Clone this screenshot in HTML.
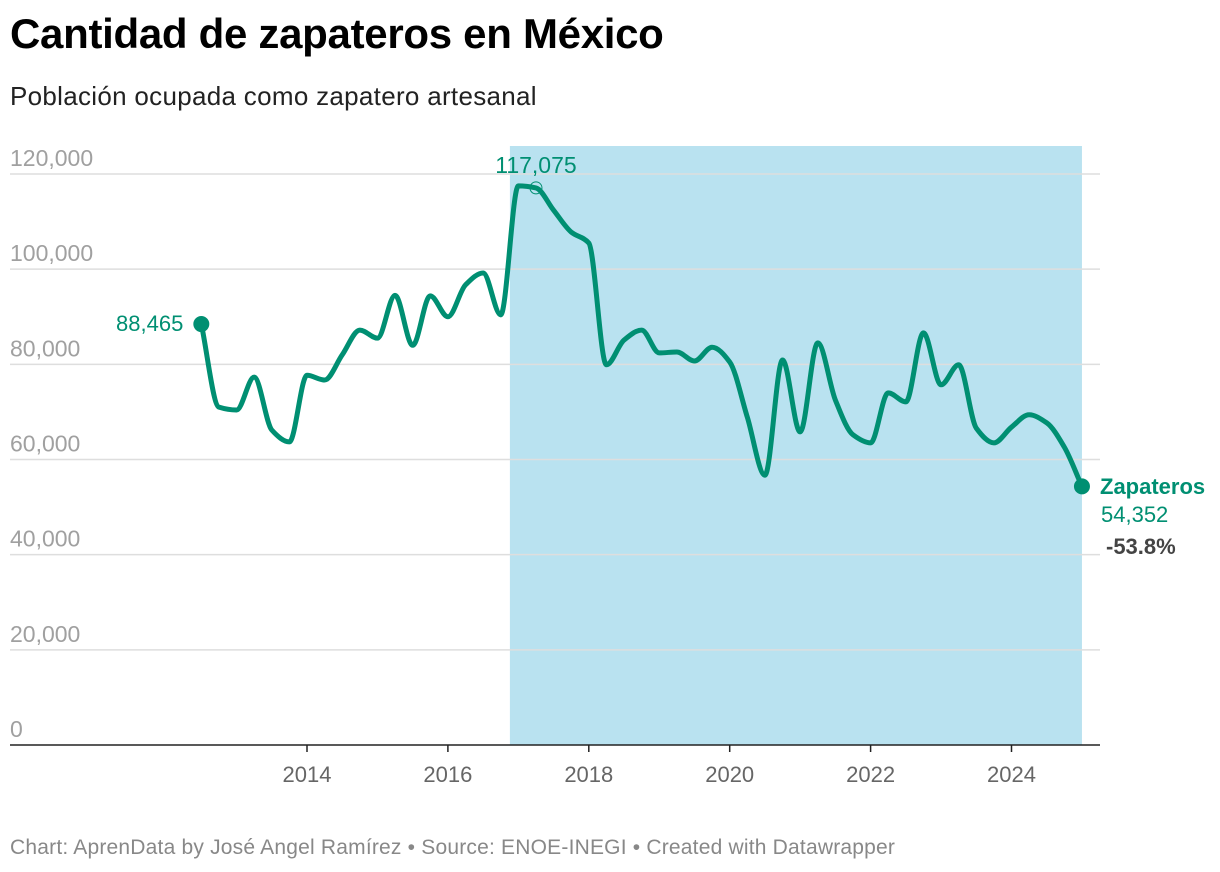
<!DOCTYPE html>
<html><head><meta charset="utf-8">
<style>
body{margin:0;background:#fff;font-family:"Liberation Sans",sans-serif;}
#wrap{position:relative;width:1220px;height:872px;overflow:hidden;}
h1{position:absolute;left:10px;top:10px;margin:0;font-size:42px;font-weight:bold;color:#000;letter-spacing:-0.3px}
.sub{position:absolute;left:10px;top:81px;font-size:26px;color:#222;letter-spacing:0.3px}
.foot{position:absolute;left:10px;top:836px;font-size:21px;color:#888;letter-spacing:0.2px}
</style></head><body>
<div id="wrap">
<h1>Cantidad de zapateros en México</h1>
<div class="sub">Población ocupada como zapatero artesanal</div>
<svg id="chart" width="1220" height="872" style="position:absolute;left:0;top:0"></svg>
<div class="foot">Chart: AprenData by José Angel Ramírez • Source: ENOE-INEGI • Created with Datawrapper</div>
</div>
<script>
const startYear = 2012.5;
const values = [88465,71000,70400,77300,66200,63700,77700,76700,82000,87200,85500,94500,84000,94400,90000,96700,99200,90400,117500,117075,112400,107800,105500,79900,85100,87200,82400,82600,80700,83600,80500,68900,56700,80900,65800,84500,72500,65200,63500,74000,72100,86600,75700,79900,66600,63500,66800,69400,67700,62600,54352];
const yTicks = [0,20000,40000,60000,80000,100000,120000];
const xTicks = [2014,2016,2018,2020,2022,2024];
const highlightRange = [2016.88, 2025.0];
const changeText = '-53.8%';
const NS="http://www.w3.org/2000/svg";
const svg=document.getElementById('chart');
const xs=t=>307+(t-2014)*70.45;
const ys=v=>745-v*(571/120000);
function mk(tag,attrs,parent){const e=document.createElementNS(NS,tag);for(const k in attrs)e.setAttribute(k,attrs[k]);(parent||svg).appendChild(e);return e;}
const band=mk('rect',{x:xs(highlightRange[0]),y:146,width:xs(highlightRange[1])-xs(highlightRange[0]),height:599,fill:'#b9e2f0'});


yTicks.forEach(v=>{
  const y=ys(v);
  if(v>0){const g=mk('line',{x1:10,x2:1100,y1:y,y2:y,stroke:'#dedede','stroke-width':1.5});
  
  }
  const t=mk('text',{x:10,y:y-8,'font-size':23,fill:'#a0a0a0'});
  t.textContent=v.toLocaleString('en-US');
  
  
});
const ax=mk('line',{x1:10,x2:1100,y1:745,y2:745,stroke:'#222','stroke-width':1.5});


xTicks.forEach(yr=>{
  const x=xs(yr);
  const tk=mk('line',{x1:x,x2:x,y1:745,y2:752,stroke:'#222','stroke-width':1.5});
  
  
  const t=mk('text',{x:x,y:782,'font-size':22,fill:'#666','text-anchor':'middle'});
  t.textContent=yr;
  
  
});
const pts=values.map((v,i)=>[xs(startYear+i*0.25),ys(v)]);
function monotone(p){
  const n=p.length,d=[],m=[];
  for(let i=0;i<n-1;i++)d.push((p[i+1][1]-p[i][1])/(p[i+1][0]-p[i][0]));
  m[0]=d[0];m[n-1]=d[n-2];
  for(let i=1;i<n-1;i++){m[i]=(d[i-1]*d[i]<=0)?0:(2/(1/d[i-1]+1/d[i]));}
  let s=`M${p[0][0]},${p[0][1]}`;
  for(let i=0;i<n-1;i++){const h=(p[i+1][0]-p[i][0])/3;
    s+=`C${p[i][0]+h},${p[i][1]+m[i]*h} ${p[i+1][0]-h},${p[i+1][1]-m[i+1]*h} ${p[i+1][0]},${p[i+1][1]}`;}
  return s;
}
const line=mk('path',{d:monotone(pts),fill:'none',stroke:'#008f72','stroke-width':5,'stroke-linejoin':'round','stroke-linecap':'round'});


const first=pts[0],last=pts[pts.length-1];
const d1=mk('circle',{cx:first[0],cy:first[1],r:8,fill:'#008f72'});


const d2=mk('circle',{cx:last[0],cy:last[1],r:8,fill:'#008f72'});


const pkIdx=19;
const pc=mk('circle',{cx:pts[pkIdx][0],cy:pts[pkIdx][1],r:6,fill:'none',stroke:'#008f72','stroke-width':1});


function lbl(txt,x,y,anchor,size,weight,fill,name){
  const t=mk('text',{x:x,y:y,'text-anchor':anchor,'font-size':size,'font-weight':weight,fill:fill});
  t.textContent=txt;
  
  
  return t;
}
lbl(values[0].toLocaleString('en-US'),first[0]-18,first[1]+7,'end',22,'normal','#008f72','start-value-label');
lbl(values[pkIdx].toLocaleString('en-US'),pts[pkIdx][0],pts[pkIdx][1]-15,'middle',23,'normal','#008f72','peak-value-label');
lbl('Zapateros',1100,494,'start',22,'bold','#008f72','series-label');
lbl(values[values.length-1].toLocaleString('en-US'),1101,522,'start',22,'normal','#008f72','end-value-label');
lbl(changeText,1106,554,'start',22,'bold','#444','change-label');
</script>
</body></html>
